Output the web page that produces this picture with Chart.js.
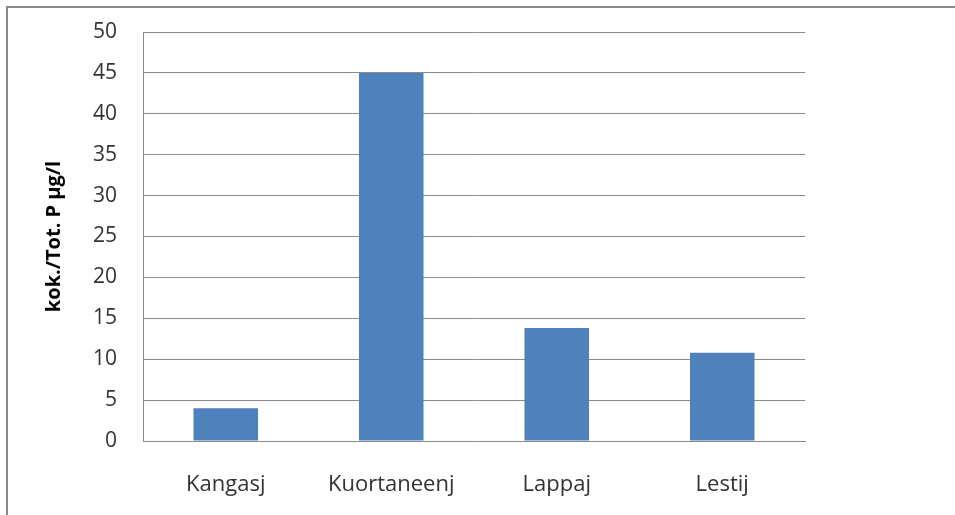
<!DOCTYPE html>
<html>
<head>
<meta charset="utf-8">
<script src="https://cdn.jsdelivr.net/npm/chart.js@4/dist/chart.umd.min.js"></script>
<style>
  body { margin: 0; background: #fff; }
  #frame {
    position: absolute; left: 6px; top: 6px; width: 1000px; height: 600px;
    border-left: 2px solid #8a8a8a; border-top: 2px solid #8a8a8a;
  }
  #wrap { position: absolute; left: 0; top: 0; width: 955px; height: 515px; }
</style>
</head>
<body>
<div id="frame"></div>
<div id="wrap"><canvas id="chart"></canvas></div>
<script>
const lakes = ["Kangasj", "Kuortaneenj", "Lappaj", "Lestij"];
const totP = [4, 45, 13.8, 10.8];
const yTitle = "kok./Tot. P µg/l";

const ctx = document.getElementById("chart");

new Chart(ctx, {
  type: "bar",
  data: {
    labels: lakes,
    datasets: [
      {
        label: yTitle,
        data: totP,
        backgroundColor: "#4f81bd",
        borderWidth: 0,
        barPercentage: 0.39,
        categoryPercentage: 1,
      },
    ],
  },
  options: {
    responsive: true,
    maintainAspectRatio: false,
    animation: false,
    layout: { padding: { left: 0, right: 150, top: 32, bottom: 0 } },
    plugins: {
      legend: { display: false },
      tooltip: { enabled: false },
    },
    scales: {
      x: {
        grid: { display: false, drawTicks: false },
        border: { display: true, color: "#8a8a8a", width: 1 },
        ticks: {
          color: "#333",
          font: { family: "Open Sans", size: 22 },
          padding: 31,
        },
        afterFit: (scale) => {
          scale.height = 74;
          scale.paddingLeft = 0;
          scale.paddingRight = 0;
        },
      },
      y: {
        min: 0,
        max: 50,
        ticks: {
          stepSize: 5,
          color: "#333",
          font: { family: "Open Sans", size: 21 },
          padding: 26,
        },
        grid: { color: "#8a8a8a", lineWidth: 1, drawTicks: false },
        border: { display: true, color: "#8a8a8a", width: 1 },
        title: {
          display: true,
          text: yTitle,
          color: "#000",
          font: { family: "Open Sans", size: 20, weight: "bold" },
          padding: { top: 42, bottom: 0 },
        },
        afterFit: (scale) => {
          scale.width = 143;
          scale.paddingTop = 0;
          scale.paddingBottom = 0;
        },
      },
    },
  },
});
</script>
</body>
</html>
